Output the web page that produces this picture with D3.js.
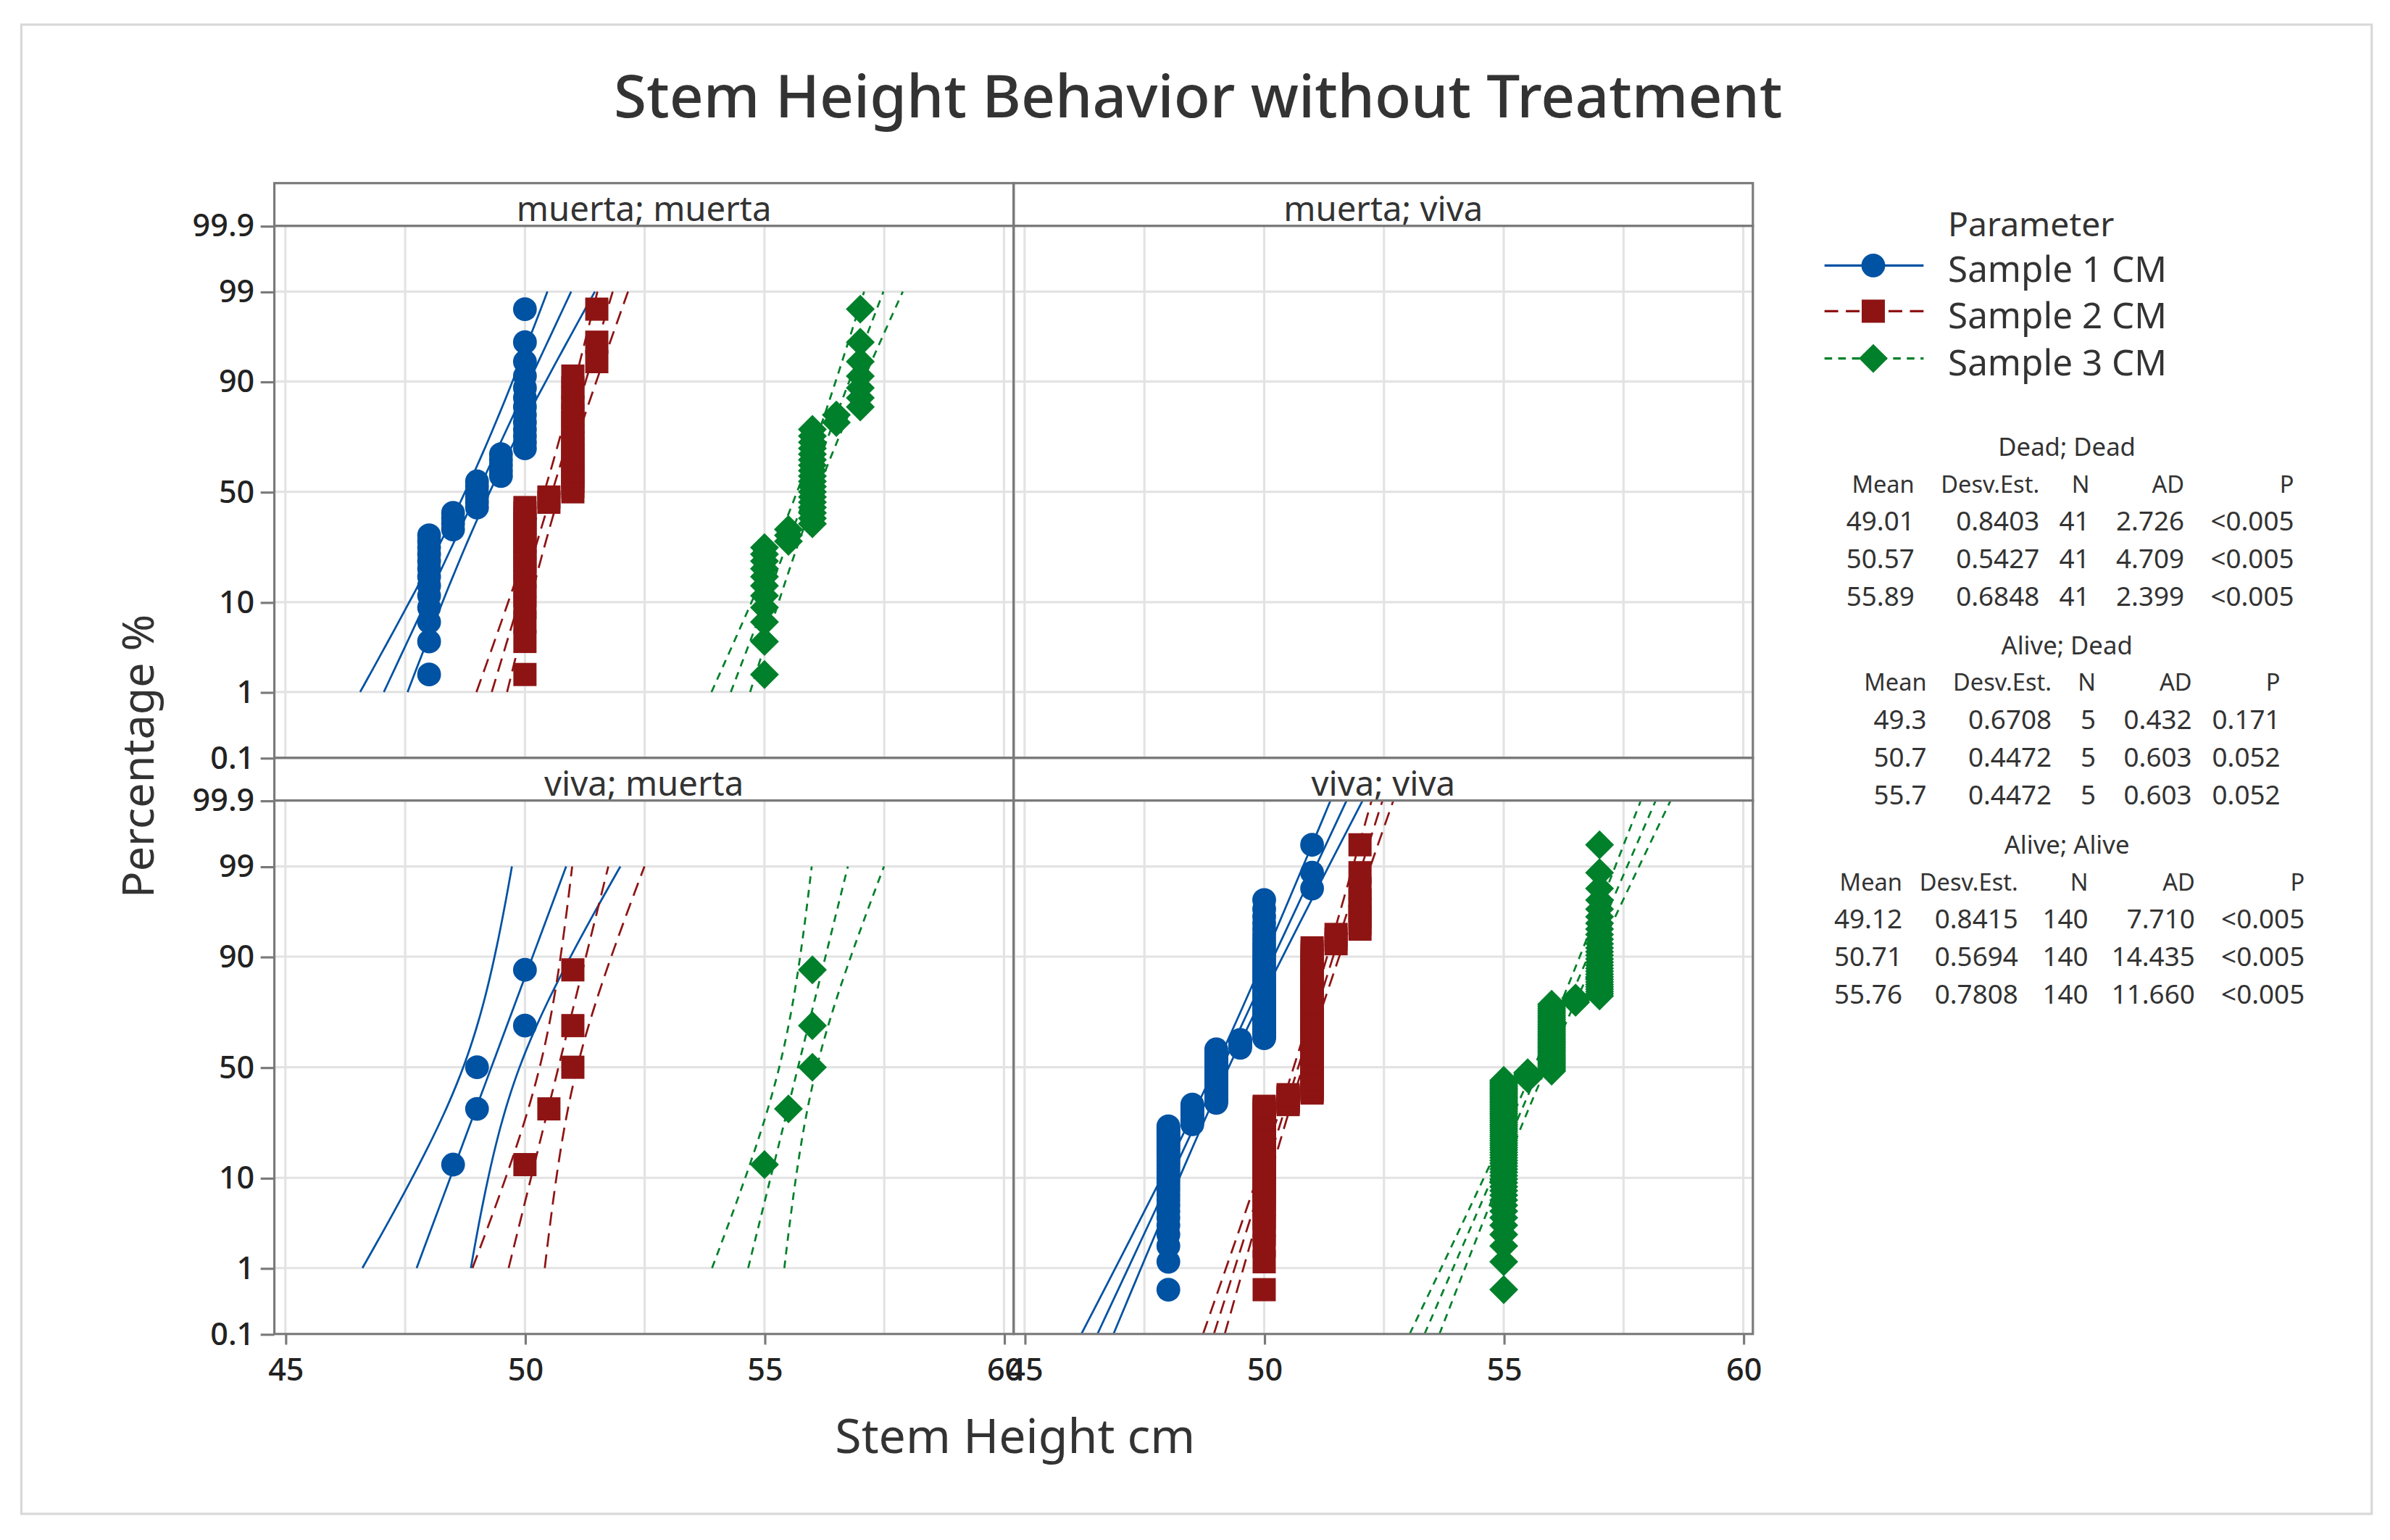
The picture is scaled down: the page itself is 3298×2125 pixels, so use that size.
<!DOCTYPE html>
<html lang="en">
<head>
<meta charset="UTF-8">
<title>Stem Height Behavior without Treatment</title>
<script src="https://d3js.org/d3.v7.min.js"></script>
<style>
  body { margin: 0; background: #fff; }
  svg { display: block; font-family: "Noto Sans", "Open Sans", sans-serif; }
</style>
</head>
<body>
<script>
// ---- data ----
const panelLabels = ["muerta; muerta", "muerta; viva", "viva; muerta", "viva; viva"];
const seriesNames = ["Sample 1 CM", "Sample 2 CM", "Sample 3 CM"];
const seriesColors = ["#0052a3", "#8e1414", "#00802a"];

// observed heights per sample, as [height, count]
const obsDeadDead = [
  [[48, 13], [48.5, 4], [49, 6], [49.5, 5], [50, 13]],
  [[50, 18], [50.5, 2], [51, 18], [51.5, 3]],
  [[55, 11], [55.5, 3], [56, 18], [56.5, 2], [57, 7]]
];
const obsAliveDead = [
  [[48.5, 1], [49, 2], [50, 2]],
  [[50, 1], [50.5, 1], [51, 3]],
  [[55, 1], [55.5, 1], [56, 3]]
];
const obsAliveAlive = [
  [[48, 35], [48.5, 12], [49, 35], [49.5, 6], [50, 49], [51, 3]],
  [[50, 46], [50.5, 7], [51, 76], [51.5, 3], [52, 8]],
  [[55, 62], [55.5, 5], [56, 41], [56.5, 3], [57, 29]]
];

const tableTitles = ["Dead; Dead", "Alive; Dead", "Alive; Alive"];
const tableHeader = ["Mean", "Desv.Est.", "N", "AD", "P"];
const tableDeadDead = [
  ["49.01", "0.8403", "41", "2.726", "<0.005"],
  ["50.57", "0.5427", "41", "4.709", "<0.005"],
  ["55.89", "0.6848", "41", "2.399", "<0.005"]
];
const tableAliveDead = [
  ["49.3", "0.6708", "5", "0.432", "0.171"],
  ["50.7", "0.4472", "5", "0.603", "0.052"],
  ["55.7", "0.4472", "5", "0.603", "0.052"]
];
const tableAliveAlive = [
  ["49.12", "0.8415", "140", "7.710", "<0.005"],
  ["50.71", "0.5694", "140", "14.435", "<0.005"],
  ["55.76", "0.7808", "140", "11.660", "<0.005"]
];

const pctTicks = [0.1, 1, 10, 50, 90, 99, 99.9];
const pctGrid = [1, 10, 50, 90, 99];
const xTicks = [45, 50, 55, 60];
const xGrid = [45, 47.5, 50, 52.5, 55, 57.5, 60];

// panel index -> data / table / fit range (percent)
const panelObs = [obsDeadDead, null, obsAliveDead, obsAliveAlive];
const panelTable = [tableDeadDead, null, tableAliveDead, tableAliveAlive];
const panelFit = [[1, 99], null, [1, 99], [0.1, 99.9]];

// inverse normal cdf (Acklam)
function probit(p) {
  const a = [-39.69683028665376, 220.9460984245205, -275.9285104469687, 138.3577518672690, -30.66479806614716, 2.506628277459239];
  const b = [-54.47609879822406, 161.5858368580409, -155.6989798598866, 66.80131188771972, -13.28068155288572];
  const c = [-0.007784894002430293, -0.3223964580411365, -2.400758277161838, -2.549732539343734, 4.374664141464968, 2.938163982698783];
  const d = [0.007784695709041462, 0.3224671290700398, 2.445134137142996, 3.754408661907416];
  const pl = 0.02425;
  let q, r;
  if (p < pl) {
    q = Math.sqrt(-2 * Math.log(p));
    return (((((c[0]*q+c[1])*q+c[2])*q+c[3])*q+c[4])*q+c[5]) / ((((d[0]*q+d[1])*q+d[2])*q+d[3])*q+1);
  }
  if (p > 1 - pl) {
    q = Math.sqrt(-2 * Math.log(1 - p));
    return -(((((c[0]*q+c[1])*q+c[2])*q+c[3])*q+c[4])*q+c[5]) / ((((d[0]*q+d[1])*q+d[2])*q+d[3])*q+1);
  }
  q = p - 0.5; r = q * q;
  return (((((a[0]*r+a[1])*r+a[2])*r+a[3])*r+a[4])*r+a[5])*q / (((((b[0]*r+b[1])*r+b[2])*r+b[3])*r+b[4])*r+1);
}

// ---- layout ----
const W = 1568, H = 1010;
const svg = d3.select("body").append("svg")
  .attr("width", 3298).attr("height", 2125)
  .attr("viewBox", `0 0 ${W} ${H}`);

svg.append("rect").attr("width", W).attr("height", H).attr("fill", "#fff");
svg.append("rect").attr("x", 14).attr("y", 16).attr("width", 1542).attr("height", 977)
  .attr("fill", "none").attr("stroke", "#d8d8d8").attr("stroke-width", 1.5);

svg.append("text").attr("x", 786).attr("y", 77).attr("text-anchor", "middle")
  .attr("font-size", 39).attr("font-weight", 500).attr("fill", "#333")
  .text("Stem Height Behavior without Treatment");

const colX = [180, 665], pw = 485;
const rowTop = [120, 497], stripH = 28;
const rowBottom = [497, 875];
const dashes = [null, "9,5", "5,4"];

const zMin = probit(0.001), zMax = probit(0.999);

function marker(sel, k, x, y) {
  const col = seriesColors[k];
  if (k === 0) {
    sel.append("circle").attr("cx", x).attr("cy", y).attr("r", 7.8).attr("fill", col);
  } else if (k === 1) {
    sel.append("rect").attr("x", x - 7.6).attr("y", y - 7.6).attr("width", 15.2).attr("height", 15.2).attr("fill", col);
  } else {
    sel.append("path").attr("d", d3.symbol(d3.symbolSquare, 180)())
      .attr("transform", `translate(${x},${y}) rotate(45)`).attr("fill", col);
  }
}

panelLabels.forEach((label, i) => {
  const col = i % 2, row = Math.floor(i / 2);
  const x0 = colX[col], top = rowTop[row] + stripH, bottom = rowBottom[row];
  const x = d3.scaleLinear().domain([44.77, 60.2]).range([x0, x0 + pw]);
  const y = d3.scaleLinear().domain([zMin, zMax]).range([bottom, top]);
  const g = svg.append("g");

  // grid
  g.selectAll(".vg").data(xGrid).join("line")
    .attr("x1", d => x(d)).attr("x2", d => x(d)).attr("y1", top).attr("y2", bottom)
    .attr("stroke", "#e3e3e3").attr("stroke-width", 1.5);
  g.selectAll(".hg").data(pctGrid).join("line")
    .attr("x1", x0).attr("x2", x0 + pw).attr("y1", d => y(probit(d / 100))).attr("y2", d => y(probit(d / 100)))
    .attr("stroke", "#e3e3e3").attr("stroke-width", 1.5);

  const clipId = "clip" + i;
  svg.append("clipPath").attr("id", clipId).append("rect")
    .attr("x", x0).attr("y", top).attr("width", pw).attr("height", bottom - top);

  const obs = panelObs[i];
  if (obs) {
    const table = panelTable[i];
    const [lo, hi] = panelFit[i];
    const zs = d3.range(0, 61).map(t => probit(lo / 100) + (probit(hi / 100) - probit(lo / 100)) * t / 60);
    const lg = g.append("g").attr("clip-path", `url(#${clipId})`);
    const mg = g.append("g");
    obs.forEach((groups, k) => {
      const mean = +table[k][0], sd = +table[k][1], n = +table[k][2];
      const line = d3.line().x(d => x(d[0])).y(d => y(d[1]));
      [-1, 0, 1].forEach(sgn => {
        const pts = zs.map(z => [mean + z * sd + sgn * 1.96 * sd * Math.sqrt((1 + z * z / 2) / n), z]);
        lg.append("path").attr("d", line(pts)).attr("fill", "none")
          .attr("stroke", seriesColors[k]).attr("stroke-width", 1.3)
          .attr("stroke-dasharray", dashes[k]);
      });
      // median ranks
      const vals = [];
      groups.forEach(([v, c]) => { for (let j = 0; j < c; j++) vals.push(v); });
      const N = vals.length;
      vals.forEach((v, j) => {
        const p = (j + 1 - 0.3) / (N + 0.4);
        marker(mg, k, x(v), y(probit(p)));
      });
    });
  }

  // strip
  svg.append("rect").attr("x", x0).attr("y", rowTop[row]).attr("width", pw).attr("height", stripH)
    .attr("fill", "none").attr("stroke", "#7a7a7a").attr("stroke-width", 1.5);
  svg.append("text").attr("x", x0 + pw / 2).attr("y", rowTop[row] + 25).attr("text-anchor", "middle")
    .attr("font-size", 22.5).attr("fill", "#333").text(label);
  // panel border
  svg.append("rect").attr("x", x0).attr("y", top).attr("width", pw).attr("height", bottom - top)
    .attr("fill", "none").attr("stroke", "#7a7a7a").attr("stroke-width", 1.5);

  if (col === 0) {
    const ax = svg.append("g").attr("transform", `translate(${x0},0)`)
      .call(d3.axisLeft(y).tickValues(pctTicks.map(p => probit(p / 100)))
        .tickFormat((d, j) => String(pctTicks[j])).tickSize(9).tickPadding(4));
    ax.select(".domain").remove();
    ax.selectAll("line").attr("stroke", "#7a7a7a").attr("stroke-width", 1.5);
    ax.selectAll("text").attr("font-size", 20.5).attr("font-weight", 500).attr("fill", "#222").attr("font-family", "Noto Sans");
  }
  if (row === 1) {
    const ax = svg.append("g").attr("transform", `translate(0,${bottom})`)
      .call(d3.axisBottom(x).tickValues(xTicks).tickFormat(d3.format("d")).tickSize(7).tickPadding(9));
    ax.select(".domain").remove();
    ax.selectAll("line").attr("stroke", "#7a7a7a").attr("stroke-width", 1.5);
    ax.selectAll("text").attr("font-size", 20.5).attr("font-weight", 500).attr("fill", "#222").attr("font-family", "Noto Sans");
  }
});

// axis titles
svg.append("text").attr("x", 666).attr("y", 953).attr("text-anchor", "middle")
  .attr("font-size", 31.5).attr("fill", "#333").text("Stem Height cm");
svg.append("text").attr("transform", "translate(101,496) rotate(-90)").attr("text-anchor", "middle")
  .attr("font-size", 29).attr("fill", "#333").text("Percentage %");

// legend
svg.append("text").attr("x", 1278).attr("y", 155).attr("font-size", 22).attr("fill", "#333").text("Parameter");
const legY = [174, 204, 235];
seriesNames.forEach((name, k) => {
  const lg = svg.append("g");
  lg.append("line").attr("x1", 1197).attr("x2", 1262).attr("y1", legY[k]).attr("y2", legY[k])
    .attr("stroke", seriesColors[k]).attr("stroke-width", 1.5).attr("stroke-dasharray", dashes[k]);
  marker(lg, k, 1229, legY[k]);
  svg.append("text").attr("x", 1278).attr("y", legY[k] + 11).attr("font-size", 23.5)
    .attr("fill", "#333").text(name);
});

// statistics tables
const tableTop = [293, 423, 554];
const tableCols = [
  [1256, 1338, 1371, 1433, 1505],
  [1264, 1346, 1375, 1438, 1496],
  [1248, 1324, 1370, 1440, 1512]
];
[tableDeadDead, tableAliveDead, tableAliveAlive].forEach((rows, t) => {
  const y0 = tableTop[t];
  const tg = svg.append("g").attr("font-size", 17.5).attr("fill", "#333");
  tg.append("text").attr("x", 1356).attr("y", y0 + 6).attr("text-anchor", "middle")
    .attr("font-size", 16.5).text(tableTitles[t]);
  tableHeader.forEach((h, c) => {
    tg.append("text").attr("x", tableCols[t][c]).attr("y", y0 + 30).attr("text-anchor", "end")
      .attr("font-size", 15.5).text(h);
  });
  rows.forEach((r, ri) => {
    r.forEach((v, c) => {
      tg.append("text").attr("x", tableCols[t][c]).attr("y", y0 + 55 + ri * 24.7)
        .attr("text-anchor", "end").text(v);
    });
  });
});
</script>
</body>
</html>
